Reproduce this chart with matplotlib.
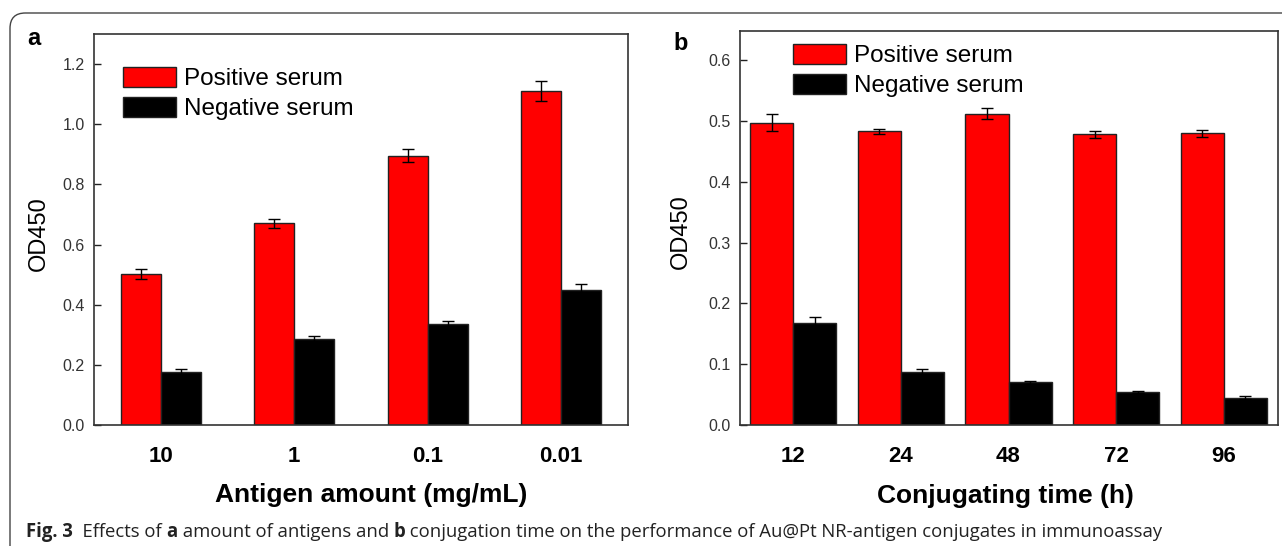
import matplotlib
matplotlib.use("Agg")
import matplotlib.pyplot as plt
import numpy as np
from matplotlib.patches import FancyBboxPatch

# ---- data ----
amount_labels = ["10", "1", "0.1", "0.01"]
amount_pos = [0.503, 0.671, 0.896, 1.111]
amount_pos_err = [0.017, 0.015, 0.021, 0.033]
amount_neg = [0.176, 0.286, 0.337, 0.450]
amount_neg_err = [0.009, 0.009, 0.009, 0.018]

time_labels = ["12", "24", "48", "72", "96"]
time_pos = [0.497, 0.483, 0.512, 0.478, 0.480]
time_pos_err = [0.014, 0.004, 0.009, 0.006, 0.006]
time_neg = [0.168, 0.087, 0.070, 0.054, 0.045]
time_neg_err = [0.010, 0.005, 0.002, 0.002, 0.002]

series_names = ["Positive serum", "Negative serum"]
caption_parts = [("Fig. 3", "bold"), ("  Effects of ", "normal"), ("a", "bold"),
                 (" amount of antigens and ", "normal"), ("b", "bold"),
                 (" conjugation time on the performance of Au@Pt NR-antigen conjugates in immunoassay", "normal")]

plt.rcParams['font.family'] = ['Liberation Sans', 'DejaVu Sans']

W, H = 1282, 546
fig = plt.figure(figsize=(W/100, H/100), dpi=100)

# rounded frame
frame = FancyBboxPatch((10/W, -0.1), 1.2, 1.1 - 13/H,
                       boxstyle="round,pad=0,rounding_size=0.012",
                       transform=fig.transFigure, fill=False,
                       edgecolor="#444444", linewidth=1.0, mutation_aspect=W/H)
fig.patches.append(frame)

red = "#ff0000"
black = "#000000"


def panel(rect, labels, pos, pos_err, neg, neg_err, width, ylim, yticks,
          xlabel, xlab_x, ylab_x, legend_anchor):
    ax = fig.add_axes(rect)
    x = np.arange(len(labels))
    ax.bar(x - width/2, pos, width, color=red, edgecolor="#222222", linewidth=1.0,
           label=series_names[0], zorder=2)
    ax.bar(x + width/2, neg, width, color=black, edgecolor="#222222", linewidth=1.0,
           label=series_names[1], zorder=2)
    ax.errorbar(x - width/2, pos, yerr=pos_err, fmt="none", ecolor="black",
                elinewidth=1.0, capsize=4, capthick=1.0, zorder=3)
    ax.errorbar(x + width/2, neg, yerr=neg_err, fmt="none", ecolor="black",
                elinewidth=1.0, capsize=4, capthick=1.0, zorder=3)
    ax.set_xlim(-0.5, len(labels) - 0.5)
    ax.set_ylim(*ylim)
    ax.set_yticks(yticks)
    ax.set_yticklabels([f"{v:.1f}" for v in yticks])
    ax.set_xticks(x)
    ax.set_xticklabels(labels, fontsize=16, fontweight="bold")
    ax.tick_params(axis="x", length=0, pad=15)
    ax.tick_params(axis="y", direction="in", length=5, width=1.0, labelsize=11.5,
                   pad=6.5, colors="#222222", labelcolor="#333333")
    for s in ax.spines.values():
        s.set_linewidth(1.2)
        s.set_color("#333333")
    ax.set_xlabel(xlabel, fontsize=19, fontweight="bold")
    ax.xaxis.set_label_coords(xlab_x, -0.179)
    ax.xaxis.label.set_va("center")
    ax.set_ylabel("OD450", fontsize=17)
    ax.yaxis.set_label_coords(ylab_x, 0.49)
    ax.yaxis.label.set_va("center")
    ax.legend(loc="upper left", bbox_to_anchor=legend_anchor, frameon=False,
              fontsize=17.5, handlelength=2.2, handleheight=0.9,
              handletextpad=0.33, labelspacing=0.25, borderaxespad=0,
              borderpad=0)
    return ax


ax1 = panel([94/W, 1 - 425/H, 534/W, 391/H], amount_labels,
            amount_pos, amount_pos_err, amount_neg, amount_neg_err, 0.3,
            (0, 1.3), [0.0, 0.2, 0.4, 0.6, 0.8, 1.0, 1.2],
            "Antigen amount (mg/mL)", 0.52, -0.103, (29/534, 1 - 33/391))
ax2 = panel([739.5/W, 1 - 425/H, 538/W, 394/H], time_labels,
            time_pos, time_pos_err, time_neg, time_neg_err, 0.4,
            (0, 0.648), [0.0, 0.1, 0.2, 0.3, 0.4, 0.5, 0.6],
            "Conjugating time (h)", 0.494, -0.109, (53/538, 1 - 13/394))

fig.text(27/W, 1 - 45/H, "a", fontsize=17, fontweight="bold", va="baseline")
fig.text(673/W, 1 - 50/H, "b", fontsize=17, fontweight="bold", va="baseline")

# caption, drawn part by part so bold words stay bold
renderer = fig.canvas.get_renderer()
cap_fs = 13.0
x0 = 26
target_right = 1160


def draw_caption(fs, draw):
    xpix = x0
    texts = []
    for s, w in caption_parts:
        t = fig.text(xpix / W, 1 - 537/H, s, fontsize=fs, fontweight=w,
                     family=["Open Sans", "DejaVu Sans"], va="baseline",
                     color="#222222")
        xpix = t.get_window_extent(renderer).x1
        texts.append(t)
    if not draw:
        for t in texts:
            t.remove()
    return xpix


right = draw_caption(cap_fs, False)
cap_fs = cap_fs * (target_right - x0) / (right - x0)
draw_caption(cap_fs, True)

fig.savefig("out.png", dpi=100)
